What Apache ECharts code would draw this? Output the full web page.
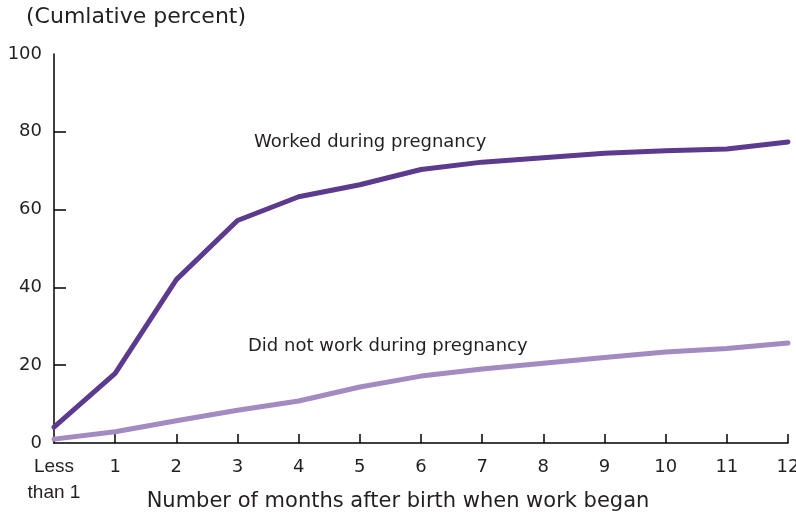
<!DOCTYPE html>
<html>
<head>
<meta charset="utf-8">
<style>
  html, body { margin: 0; padding: 0; background: #fff; }
  #chart { width: 796px; height: 514px; }
</style>
<script src="https://cdn.jsdelivr.net/npm/echarts@6/dist/echarts.min.js"></script>
</head>
<body>
<div id="chart"></div>
<script>
// months after birth when work began
const months = ['Less\nthan 1', '1', '2', '3', '4', '5', '6', '7', '8', '9', '10', '11', '12']
const worked = [4.1, 17.9, 42, 57.2, 63.3, 66.4, 70.3, 72.2, 73.3, 74.5, 75.1, 75.6, 77.4]
const didNotWork = [1, 2.9, 5.7, 8.4, 10.8, 14.4, 17.2, 19, 20.5, 22, 23.4, 24.3, 25.7]
const yTicks = [20, 40, 60, 80]

const font = 'DejaVu Sans'
const textColor = '#231f20'

const chart = echarts.init(document.getElementById('chart'))

chart.setOption({
  animation: false,
  grid: {
    left: 54,
    right: 8,
    top: 54,
    bottom: 71,
    containLabel: false,
    outerBoundsMode: 'none'
  },
  xAxis: {
    type: 'category',
    data: months,
    boundaryGap: false,
    name: 'Number of months after birth when work began',
    nameLocation: 'middle',
    nameGap: 59,
    nameMoveOverlap: false,
    // name sits a bit left of the plot centre in the original
    nameTextStyle: { fontFamily: font, fontSize: 21, color: textColor, verticalAlign: 'middle', padding: [0, 46, 0, 0] },
    axisLine: { lineStyle: { color: '#000', width: 1.5 } },
    axisTick: {
      inside: true,
      length: 9,
      interval: (i) => i > 0,
      lineStyle: { color: '#000', width: 1.5 }
    },
    axisLabel: {
      margin: 11,
      interval: 0,
      fontFamily: font,
      fontSize: 18,
      color: textColor,
      lineHeight: 26,
      formatter: (v) => v.indexOf('Less') === 0 ? '{a|' + v.replace('\n', '}\n{a|') + '}' : v,
      rich: {
        a: { fontFamily: 'Liberation Sans', fontSize: 19, color: textColor, lineHeight: 26 }
      }
    },
    splitLine: { show: false }
  },
  yAxis: {
    type: 'value',
    min: 0,
    max: 100,
    interval: 20,
    axisLine: { show: true, lineStyle: { color: '#000', width: 1.5 } },
    axisTick: {
      show: true,
      inside: true,
      length: 12,
      customValues: yTicks,
      lineStyle: { color: '#000', width: 1.5 }
    },
    axisLabel: {
      margin: 12,
      fontFamily: font,
      fontSize: 18,
      color: textColor
    },
    splitLine: { show: false }
  },
  graphic: [
    {
      type: 'text',
      left: 26,
      top: 6,
      style: { text: '(Cumlative percent)', fontFamily: font, fontSize: 22, fill: textColor }
    },
    {
      type: 'text',
      left: 254,
      top: 133,
      style: { text: 'Worked during pregnancy', fontFamily: font, fontSize: 18, fill: textColor }
    },
    {
      type: 'text',
      left: 248,
      top: 337,
      style: { text: 'Did not work during pregnancy', fontFamily: font, fontSize: 18, fill: textColor }
    }
  ],
  series: [
    {
      name: 'Did not work during pregnancy',
      type: 'line',
      data: didNotWork,
      symbol: 'none',
      lineStyle: { color: '#a38ac0', width: 5, cap: 'round', join: 'round' },
      z: 2
    },
    {
      name: 'Worked during pregnancy',
      type: 'line',
      data: worked,
      symbol: 'none',
      lineStyle: { color: '#5c3a8e', width: 5, cap: 'round', join: 'round' },
      z: 3
    }
  ]
})
</script>
</body>
</html>
